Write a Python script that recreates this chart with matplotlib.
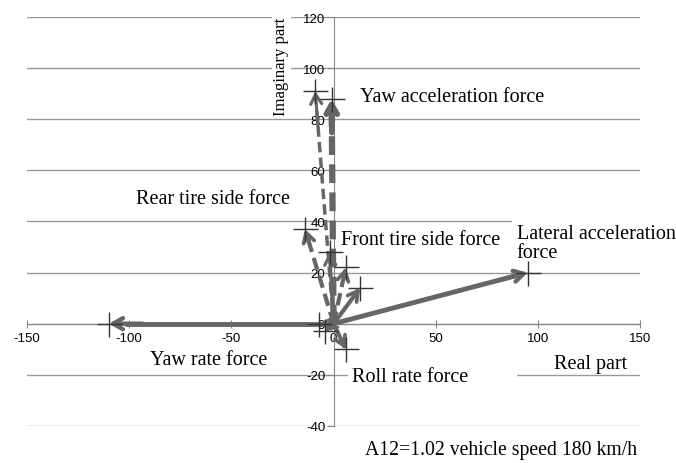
import matplotlib.pyplot as plt
import numpy as np

# Vector end points (real, imaginary) and their style
real_parts = [-110, 95, -1, -9, -14, 6, -2, 13, 6, -7, -4]
imag_parts = [0, 20, 88, 91, 37, 22, 28, 14, -10, 0, -3]
dashed = [False, False, True, True, True, True, False, False, False, False, False]
widths = [3.5, 3.5, 4.5, 2.5, 3.0, 3.0, 2.5, 3.0, 3.0, 2.0, 2.0]

labels = ["Yaw acceleration force", "Rear tire side force", "Front tire side force",
          "Lateral acceleration\nforce", "Yaw rate force", "Roll rate force         ", "Real part"]
label_x = [13, -59, 3.5, 89.5, -61, 9, 108]
label_y = [89, 49, 33, 31.5, -14, -20.5, -15.5]
centered = [False, True, False, False, True, False, False]
boxed = [True, True, True, True, True, True, False]

x_ticks = [-150, -100, -50, 0, 50, 100, 150]
y_ticks = [-40, -20, 0, 20, 40, 60, 80, 100, 120]

col = '#666666'
plt.rcParams['font.family'] = ['Liberation Sans', 'DejaVu Sans']
plt.rcParams['axes.unicode_minus'] = False

fig = plt.figure(figsize=(6.76, 4.64), dpi=100)
ax = fig.add_axes([0.04, 0.08, 0.907, 0.881])
ax.set_xlim(-150, 150)
ax.set_ylim(-40, 120)
ax.set_xticks(x_ticks)
ax.set_yticks(y_ticks)
ax.grid(axis='y', color='#999999', lw=1.0)
ax.set_axisbelow(True)

for s in ['top', 'right']:
    ax.spines[s].set_visible(False)
ax.spines['left'].set_position(('data', 0))
ax.spines['bottom'].set_position(('data', 0))
ax.spines['left'].set_color('#888888')
ax.spines['bottom'].set_color('#888888')
ax.tick_params(axis='x', direction='inout', length=6, color='#888888', labelsize=9.5, pad=3)
ax.tick_params(axis='y', direction='out', length=5, color='#888888', labelsize=9.5, pad=1)

# Vectors: shaft as a line, head via annotate
for x, y, d, w in zip(real_parts, imag_parts, dashed, widths):
    ls = (0, (3, 1.5)) if d else '-'
    ax.plot([0, x * 0.93], [0, y * 0.93], color=col, lw=w, ls=ls, zorder=4,
            solid_capstyle='butt')
    ax.annotate('', xy=(x, y), xytext=(x * 0.85, y * 0.85),
                arrowprops=dict(arrowstyle='->,head_length=0.7,head_width=0.4',
                                color=col, lw=w * 0.9, shrinkA=0, shrinkB=0),
                zorder=5)
    ax.plot(x, y, marker='+', ms=18, mew=1.0, color='#333333', zorder=6)

for t, x, y, c, b in zip(labels, label_x, label_y, centered, boxed):
    ax.text(x, y, t, fontsize=14.5, family='Liberation Serif', va='center',
            ha='center' if c else 'left', linespacing=1.0,
            bbox=dict(facecolor='white', edgecolor='none', pad=3) if b else None,
            zorder=3)

ax.text(-25.5, 101, "Imaginary part", rotation=90, fontsize=12, family='Liberation Serif',
        ha='center', va='center', bbox=dict(facecolor='white', edgecolor='none', pad=1),
        zorder=3)
fig.text(0.54, 0.03, "A12=1.02 vehicle speed 180 km/h", fontsize=14.2,
         family='Liberation Serif', ha='left', va='center')

fig.savefig('out.png', dpi=100)
